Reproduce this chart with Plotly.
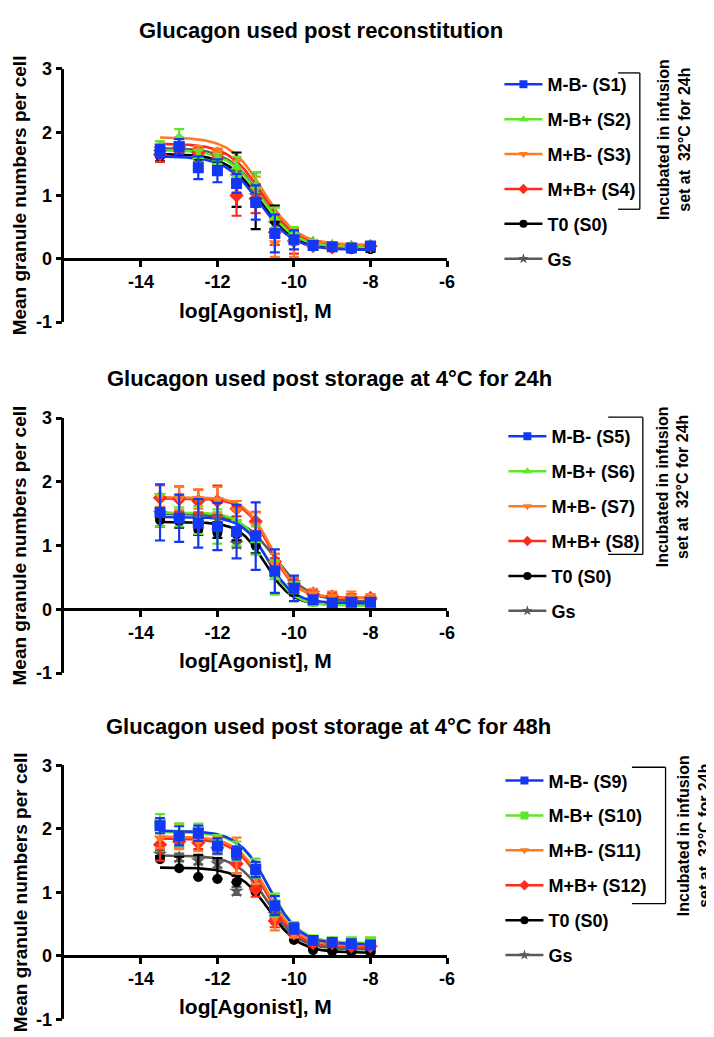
import numpy as np
import plotly.graph_objects as go

# ---------------- data ----------------
log_conc = [-13.5, -13.0, -12.5, -12.0, -11.5, -11.0, -10.5, -10.0, -9.5, -9.0, -8.5, -8.0]

series_names_p1 = ["M-B- (S1)", "M-B+ (S2)", "M+B- (S3)", "M+B+ (S4)", "T0 (S0)", "Gs"]
series_names_p2 = ["M-B- (S5)", "M-B+ (S6)", "M+B- (S7)", "M+B+ (S8)", "T0 (S0)", "Gs"]
series_names_p3 = ["M-B- (S9)", "M-B+ (S10)", "M+B- (S11)", "M+B+ (S12)", "T0 (S0)", "Gs"]

panel_titles = ["Glucagon used post reconstitution",
                "Glucagon used post storage at 4°C for 24h",
                "Glucagon used post storage at 4°C for 48h"]

x_title = "log[Agonist], M"
y_title = "Mean granule numbers per cell"
bracket_text = "Incubated in infusion<br>set at\u00a0 32°C for 24h"

x_tickvals = [-14, -12, -10, -8, -6]
x_ticktext = ["-14", "-12", "-10", "-8", "-6"]
y_tickvals = [-1, 0, 1, 2, 3]
y_ticktext = ["-1", "0", "1", "2", "3"]

# Panel 1 - post reconstitution (means, SEM)
p1_s1_mean = [1.70, 1.77, 1.44, 1.39, 1.19, 0.89, 0.40, 0.30, 0.21, 0.19, 0.17, 0.20]
p1_s1_sem = [0.10, 0.12, 0.18, 0.18, 0.15, 0.27, 0.30, 0.15, 0.05, 0.04, 0.04, 0.04]
p1_s2_mean = [1.80, 1.92, 1.62, 1.58, 1.45, 1.15, 0.65, 0.42, 0.25, 0.21, 0.20, 0.22]
p1_s2_sem = [0.06, 0.13, 0.10, 0.08, 0.16, 0.22, 0.16, 0.08, 0.05, 0.04, 0.04, 0.04]
p1_s3_mean = [1.78, 1.82, 1.70, 1.68, 1.30, 1.10, 0.25, 0.25, 0.20, 0.20, 0.20, 0.22]
p1_s3_sem = [0.08, 0.10, 0.08, 0.06, 0.25, 0.20, 0.22, 0.22, 0.05, 0.04, 0.04, 0.04]
p1_s4_mean = [1.65, 1.75, 1.68, 1.66, 1.00, 0.95, 0.42, 0.28, 0.20, 0.18, 0.18, 0.20]
p1_s4_sem = [0.12, 0.08, 0.08, 0.06, 0.32, 0.23, 0.20, 0.20, 0.06, 0.04, 0.04, 0.04]
p1_s0_mean = [1.62, 1.75, 1.62, 1.55, 1.25, 0.92, 0.60, 0.35, 0.22, 0.17, 0.15, 0.15]
p1_s0_sem = [0.08, 0.08, 0.10, 0.06, 0.43, 0.45, 0.24, 0.10, 0.05, 0.04, 0.04, 0.04]
p1_gs_mean = [1.68, 1.74, 1.60, 1.55, 1.30, 1.00, 0.55, 0.35, 0.25, 0.20, 0.18, 0.18]
p1_gs_sem = [0.06, 0.06, 0.06, 0.06, 0.08, 0.08, 0.08, 0.06, 0.04, 0.04, 0.04, 0.04]
# fitted 4PL parameters (S1, S2, S3, S4, S0, Gs)
p1_top = [1.62, 1.72, 1.92, 1.82, 1.66, 1.75]
p1_bottom = [0.14, 0.18, 0.22, 0.20, 0.16, 0.18]
p1_logec50 = [-10.90, -10.85, -10.80, -10.82, -10.88, -10.85]
p1_hill = [1.0, 1.0, 1.0, 1.0, 1.0, 1.0]

# Panel 2 - storage 4°C 24h
p2_s5_mean = [1.52, 1.43, 1.35, 1.30, 1.22, 1.15, 0.60, 0.33, 0.15, 0.10, 0.11, 0.11]
p2_s5_sem = [0.44, 0.37, 0.38, 0.37, 0.42, 0.53, 0.34, 0.20, 0.06, 0.05, 0.05, 0.05]
p2_s6_mean = [1.55, 1.45, 1.40, 1.30, 1.20, 1.08, 0.50, 0.28, 0.10, 0.06, 0.06, 0.06]
p2_s6_sem = [0.25, 0.15, 0.22, 0.27, 0.20, 0.22, 0.27, 0.15, 0.04, 0.03, 0.03, 0.03]
p2_s7_mean = [1.78, 1.74, 1.73, 1.72, 1.55, 1.32, 0.72, 0.40, 0.25, 0.20, 0.20, 0.18]
p2_s7_sem = [0.17, 0.18, 0.15, 0.20, 0.15, 0.20, 0.15, 0.10, 0.07, 0.08, 0.08, 0.06]
p2_s8_mean = [1.75, 1.73, 1.70, 1.70, 1.58, 1.38, 0.75, 0.40, 0.24, 0.20, 0.18, 0.18]
p2_s8_sem = [0.20, 0.20, 0.18, 0.24, 0.12, 0.15, 0.12, 0.10, 0.06, 0.06, 0.06, 0.05]
p2_s0_mean = [1.40, 1.38, 1.25, 1.20, 1.18, 1.00, 0.62, 0.30, 0.12, 0.08, 0.08, 0.08]
p2_s0_sem = [0.10, 0.10, 0.08, 0.08, 0.10, 0.12, 0.10, 0.08, 0.04, 0.03, 0.03, 0.03]
p2_gs_mean = [1.50, 1.46, 1.45, 1.42, 1.03, 1.12, 0.72, 0.42, 0.25, 0.15, 0.12, 0.12]
p2_gs_sem = [0.06, 0.06, 0.06, 0.06, 0.06, 0.08, 0.08, 0.06, 0.04, 0.04, 0.04, 0.04]
p2_top = [1.45, 1.52, 1.76, 1.74, 1.37, 1.50]
p2_bottom = [0.10, 0.06, 0.18, 0.18, 0.07, 0.12]
p2_logec50 = [-10.68, -10.70, -10.60, -10.62, -10.75, -10.50]
p2_hill = [1.3, 1.3, 1.3, 1.3, 1.3, 1.0]

# Panel 3 - storage 4°C 48h
p3_s9_mean = [2.05, 1.89, 1.93, 1.73, 1.62, 1.36, 0.79, 0.43, 0.24, 0.21, 0.19, 0.17]
p3_s9_sem = [0.12, 0.15, 0.12, 0.12, 0.10, 0.12, 0.15, 0.08, 0.05, 0.04, 0.04, 0.04]
p3_s10_mean = [2.08, 1.90, 1.95, 1.75, 1.65, 1.38, 0.80, 0.45, 0.25, 0.22, 0.22, 0.22]
p3_s10_sem = [0.15, 0.18, 0.13, 0.15, 0.15, 0.15, 0.18, 0.08, 0.05, 0.05, 0.05, 0.05]
p3_s11_mean = [1.85, 1.88, 1.80, 1.75, 1.58, 1.25, 0.60, 0.35, 0.22, 0.20, 0.18, 0.15]
p3_s11_sem = [0.15, 0.20, 0.15, 0.12, 0.28, 0.12, 0.20, 0.06, 0.04, 0.05, 0.04, 0.04]
p3_s12_mean = [1.75, 1.80, 1.78, 1.70, 1.45, 1.05, 0.55, 0.35, 0.20, 0.20, 0.15, 0.15]
p3_s12_sem = [0.25, 0.10, 0.10, 0.10, 0.15, 0.12, 0.10, 0.06, 0.04, 0.05, 0.04, 0.04]
p3_s0_mean = [1.52, 1.38, 1.24, 1.21, 1.16, 1.01, 0.55, 0.25, 0.09, 0.07, 0.06, 0.05]
p3_s0_sem = [0.05, 0.18, 0.35, 0.33, 0.10, 0.08, 0.06, 0.04, 0.02, 0.02, 0.02, 0.02]
p3_gs_mean = [1.60, 1.55, 1.50, 1.45, 1.02, 1.05, 0.65, 0.35, 0.20, 0.15, 0.12, 0.12]
p3_gs_sem = [0.06, 0.06, 0.06, 0.06, 0.06, 0.06, 0.06, 0.05, 0.04, 0.04, 0.04, 0.04]
p3_top = [1.97, 1.95, 1.88, 1.85, 1.39, 1.58]
p3_bottom = [0.18, 0.20, 0.16, 0.13, 0.05, 0.10]
p3_logec50 = [-10.65, -10.65, -10.70, -10.72, -10.65, -10.68]
p3_hill = [1.1, 1.1, 1.1, 1.1, 1.1, 1.1]

# ---------------- styles ----------------
colors = ["#1238f5", "#5fe628", "#ff7a22", "#ff2a1c", "#000000", "#5a5a5a"]
symbols_p12 = ["square", "triangle-up", "triangle-down", "diamond", "circle", "star"]
symbols_p3 = ["square", "square", "triangle-down", "diamond", "circle", "star"]
marker_sizes = [11, 11, 11, 11, 10, 11]
draw_order = [5, 4, 3, 2, 1, 0]  # Gs, T0, red, orange, green, blue on top

FONT = "Arial, 'Liberation Sans', Helvetica, sans-serif"
W, H = 714, 1037

panels = [
    dict(names=series_names_p1, symbols=symbols_p12,
         means=[p1_s1_mean, p1_s2_mean, p1_s3_mean, p1_s4_mean, p1_s0_mean, p1_gs_mean],
         sems=[p1_s1_sem, p1_s2_sem, p1_s3_sem, p1_s4_sem, p1_s0_sem, p1_gs_sem],
         top=p1_top, bottom=p1_bottom, ec=p1_logec50, hill=p1_hill,
         ypx=(52, 310), title_px=(317, 13), xt_px=298,
         leg_px=(497, 49), br=(617, 639, 56, 195), brtxt=(673, 124)),
    dict(names=series_names_p2, symbols=symbols_p12,
         means=[p2_s5_mean, p2_s6_mean, p2_s7_mean, p2_s8_mean, p2_s0_mean, p2_gs_mean],
         sems=[p2_s5_sem, p2_s6_sem, p2_s7_sem, p2_s8_sem, p2_s0_sem, p2_gs_sem],
         top=p2_top, bottom=p2_bottom, ec=p2_logec50, hill=p2_hill,
         ypx=(408, 668), title_px=(325, 368), xt_px=655,
         leg_px=(501, 408), br=(607, 642, 407, 547), brtxt=(672, 478)),
    dict(names=series_names_p3, symbols=symbols_p3,
         means=[p3_s9_mean, p3_s10_mean, p3_s11_mean, p3_s12_mean, p3_s0_mean, p3_gs_mean],
         sems=[p3_s9_sem, p3_s10_sem, p3_s11_sem, p3_s12_sem, p3_s0_sem, p3_gs_sem],
         top=p3_top, bottom=p3_bottom, ec=p3_logec50, hill=p3_hill,
         ypx=(762, 1021), title_px=(324, 722), xt_px=1008,
         leg_px=(498, 759), br=(631, 665, 764, 903), brtxt=(694, 834)),
]

XPX = (57, 444)


def px_x(p):
    return p / W


def px_y(p):
    return 1 - p / H


fig = go.Figure()
layout = dict(width=W, height=H, autosize=False,
              margin=dict(l=0, r=0, t=0, b=0),
              paper_bgcolor="white", plot_bgcolor="white",
              font=dict(family=FONT, color="black"),
              shapes=[], annotations=[])

xcurve = np.linspace(log_conc[0], log_conc[-1], 200)

for pi, pan in enumerate(panels):
    n = "" if pi == 0 else str(pi + 1)
    xa, ya = "x" + n, "y" + n
    leg = "legend" + n
    y0 = px_y(pan["ypx"][1])
    y1 = px_y(pan["ypx"][0])
    xpos = y0 + 0.25 * (y1 - y0)   # y = 0 in a [-1, 3] range

    layout["xaxis" + n] = dict(
        domain=[px_x(XPX[0]), px_x(XPX[1])], range=[-16, -6],
        anchor="free", position=xpos,
        showline=True, linecolor="black", linewidth=2.6,
        ticks="outside", ticklen=6, tickwidth=2.6, tickcolor="black",
        tickvals=x_tickvals, ticktext=x_ticktext,
        tickfont=dict(size=18, family=FONT, weight="bold"),
        showgrid=False, zeroline=False, fixedrange=True)
    layout["yaxis" + n] = dict(
        domain=[y0, y1], range=[-1, 3], anchor=xa,
        showline=True, linecolor="black", linewidth=2.6,
        ticks="outside", ticklen=6, tickwidth=2.6, tickcolor="black",
        tickvals=y_tickvals, ticktext=y_ticktext,
        tickfont=dict(size=18, family=FONT, weight="bold"),
        showgrid=False, zeroline=False, fixedrange=True)

    lx, ly = pan["leg_px"]
    layout[leg] = dict(
        x=px_x(lx), y=px_y(ly), xanchor="left", yanchor="top",
        xref="paper", yref="paper",
        font=dict(size=18, family=FONT, weight="bold", color="black"),
        bgcolor="rgba(0,0,0,0)", borderwidth=0,
        itemwidth=38, tracegroupgap=8.5, traceorder="grouped",
        itemclick=False, itemdoubleclick=False)

    # legend entries
    for si in range(6):
        fig.add_trace(go.Scatter(
            x=[None], y=[None], mode="lines+markers", name=pan["names"][si],
            line=dict(color=colors[si], width=2.5),
            marker=dict(symbol=pan["symbols"][si], color=colors[si], size=8),
            legend=leg, legendgroup=f"p{pi}s{si}", showlegend=True,
            xaxis=xa, yaxis=ya))

    # fitted curves
    for si in draw_order:
        top, bot, ec, h = pan["top"][si], pan["bottom"][si], pan["ec"][si], pan["hill"][si]
        ycurve = bot + (top - bot) / (1 + 10 ** (h * (xcurve - ec)))
        fig.add_trace(go.Scatter(
            x=xcurve, y=ycurve, mode="lines",
            line=dict(color=colors[si], width=2.6),
            showlegend=False, hoverinfo="skip", xaxis=xa, yaxis=ya))
    # mean +/- SEM points
    for si in draw_order:
        sem = pan["sems"][si]
        if pi == 2 and si == 4:
            err = dict(type="data", array=sem, arrayminus=[0] * len(sem), symmetric=False,
                       color=colors[si], thickness=2.2, width=5)
        else:
            err = dict(type="data", array=sem, color=colors[si], thickness=2.2, width=5)
        fig.add_trace(go.Scatter(
            x=log_conc, y=pan["means"][si], mode="markers",
            marker=dict(symbol=pan["symbols"][si], color=colors[si],
                        size=marker_sizes[si], line=dict(width=0)),
            error_y=err, name=pan["names"][si],
            showlegend=False, xaxis=xa, yaxis=ya))

    # titles
    tx, ty = pan["title_px"]
    layout["annotations"].append(dict(
        text=panel_titles[pi], x=px_x(tx), y=px_y(ty), xref="paper", yref="paper",
        xanchor="center", yanchor="middle", showarrow=False,
        font=dict(size=22, family=FONT, weight="bold")))
    layout["annotations"].append(dict(
        text=x_title, x=px_x((XPX[0] + XPX[1]) / 2), y=px_y(pan["xt_px"]),
        xref="paper", yref="paper", xanchor="center", yanchor="middle", showarrow=False,
        font=dict(size=21, family=FONT, weight="bold")))
    layout["annotations"].append(dict(
        text=y_title, x=px_x(12), y=(y0 + y1) / 2, textangle=-90,
        xref="paper", yref="paper", xanchor="center", yanchor="middle", showarrow=False,
        font=dict(size=19, family=FONT, weight="bold")))

    # bracket grouping the infusion-set samples
    bx0, bx1, by0, by1 = pan["br"]
    for (xa0, ya0, xa1, ya1) in [(bx0, by0, bx1, by0), (bx1, by0, bx1, by1), (bx0, by1, bx1, by1)]:
        layout["shapes"].append(dict(
            type="line", xref="paper", yref="paper",
            x0=px_x(xa0), y0=px_y(ya0), x1=px_x(xa1), y1=px_y(ya1),
            line=dict(color="black", width=1.3)))
    btx, bty = pan["brtxt"]
    layout["annotations"].append(dict(
        text=bracket_text, x=px_x(btx), y=px_y(bty), textangle=-90,
        xref="paper", yref="paper", xanchor="center", yanchor="middle", showarrow=False,
        font=dict(size=16, family=FONT, weight="bold")))

fig.update_layout(**layout)
fig.write_html("out.html")
